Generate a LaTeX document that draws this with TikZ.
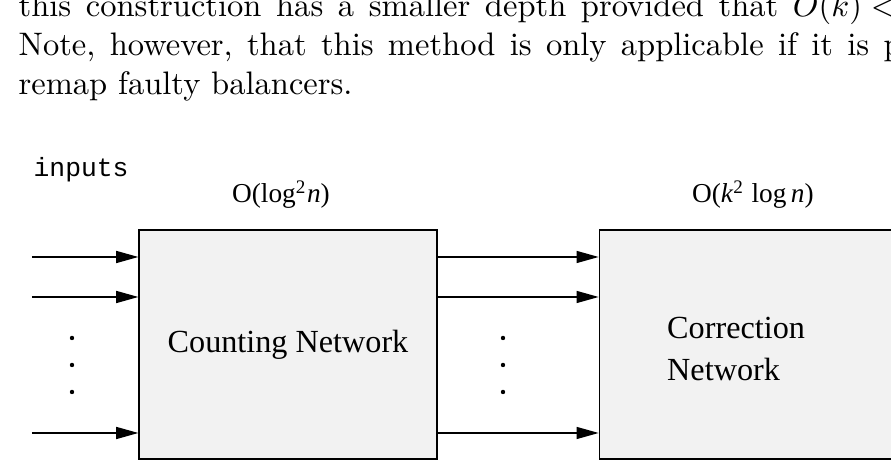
\documentclass[tikz,border=0pt]{standalone}
\usepackage{fontspec}
\newfontfamily\timesfont{Liberation Serif}
\newfontfamily\courierfont{Liberation Mono}
\usetikzlibrary{arrows.meta,positioning}
\definecolor{boxgray}{HTML}{F2F2F2}

\begin{document}
\begin{tikzpicture}[x=0.0108cm, y=-0.0108cm, node distance=1.739cm,
  netbox/.style={draw, rectangle, line width=0.45pt, fill=boxgray, minimum width=3.218cm,
    minimum height=2.473cm, inner sep=0pt, font=\timesfont\fontsize{9.9pt}{12.9pt}\selectfont},
  cost/.style={inner sep=0pt, font=\timesfont\fontsize{8.4pt}{10pt}\selectfont},
  bodyline/.style={inner sep=0pt, anchor=base west, font=\fontsize{10pt}{12pt}\selectfont},
  flow/.style={line width=0.4pt, -{Triangle[length=6.8pt, width=3.7pt]}}]
\path[use as bounding box, clip] (0,0) rectangle (891,465);

% Text of the page
\node[bodyline] (line1) at (18,17) {\spaceskip=4.5pt this construction has a smaller depth provided that $O(k) <$};
\node[bodyline] (line2) at (18,56) {\spaceskip=4.4pt Note, however, that this method is only applicable if it is p};
\node[bodyline] (line3) at (18,95) {remap faulty balancers.};

% Networks
\node[netbox] (count) at (288,344.5) {Counting Network};
\node[netbox, right=of count] (correct) {};
\node[inner sep=0pt, anchor=north west, align=left, font=\timesfont\fontsize{9.9pt}{12.9pt}\selectfont]
  (correcttext) at ([xshift=0.734cm, yshift=-0.94cm]correct.north west) {Correction\\Network};

% Labels
\node[inner sep=0pt, anchor=base west, font=\courierfont\fontsize{8.1pt}{10pt}\selectfont] (inputs) at (33,177) {inputs};
\node[cost, above=0.216cm of count, xshift=-0.076cm] (countcost) {O(log\textsuperscript{2}\textit{n})};
\node[cost, above=0.216cm of correct, xshift=0.05cm] (correctcost) {O(\textit{k}\textsuperscript{2} log\,\textit{n})};

% Wires
\coordinate (in1) at (32,257);
\coordinate (in2) at (32,297);
\coordinate (in3) at (32,433);
\draw[flow] (in1) -- (in1 -| count.west);
\draw[flow] (in2) -- (in2 -| count.west);
\draw[flow] (in3) -- (in3 -| count.west);
\draw[flow] (in1 -| count.east) -- (in1 -| correct.west);
\draw[flow] (in2 -| count.east) -- (in2 -| correct.west);
\draw[flow] (in3 -| count.east) -- (in3 -| correct.west);

% Dots
\fill (72,338) circle[radius=2.2] (72,365) circle[radius=2.2] (72,392) circle[radius=2.2];
\fill (503,338) circle[radius=2.2] (503,365) circle[radius=2.2] (503,392) circle[radius=2.2];
\end{tikzpicture}
\end{document}
